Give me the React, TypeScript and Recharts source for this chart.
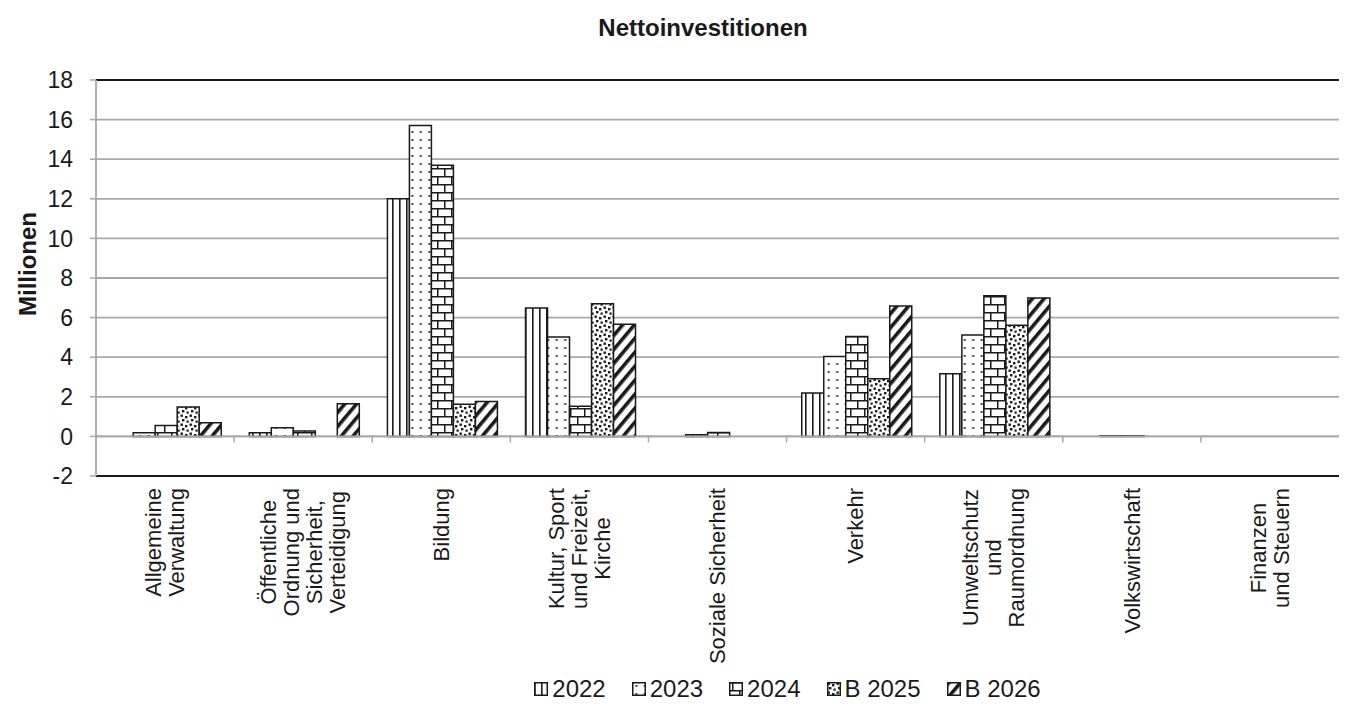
import React from "react";
import {
  BarChart,
  Bar,
  XAxis,
  YAxis,
  CartesianGrid,
  ReferenceLine,
  Legend,
} from "recharts";

const categoryLines: string[][] = [
  ["Allgemeine", "Verwaltung"],
  ["Öffentliche", "Ordnung und", "Sicherheit,", "Verteidigung"],
  ["Bildung"],
  ["Kultur, Sport", "und Freizeit,", "Kirche"],
  ["Soziale Sicherheit"],
  ["Verkehr"],
  ["Umweltschutz", "und", "Raumordnung"],
  ["Volkswirtschaft"],
  ["Finanzen", "und Steuern"],
];
const categories = categoryLines.map((l) => l.join(" "));

const v2022 = [0, 0.19, 12.0, 6.48, 0, 2.19, 3.17, 0, 0];
const v2023 = [0.19, 0.44, 15.7, 5.02, 0.08, 4.04, 5.12, 0.03, 0];
const v2024 = [0.55, 0.27, 13.7, 1.52, 0.2, 5.05, 7.1, 0.03, 0];
const v2025 = [1.48, 0, 1.62, 6.7, 0, 2.91, 5.61, 0, 0];
const v2026 = [0.69, 1.65, 1.76, 5.66, 0, 6.58, 6.99, 0, 0];

const seriesNames = ["2022", "2023", "2024", "B 2025", "B 2026"];
const seriesKeys = ["s2022", "s2023", "s2024", "s2025", "s2026"];
const yTicks = [-2, 0, 2, 4, 6, 8, 10, 12, 14, 16, 18];

const data = categories.map((name, i) => ({
  name,
  s2022: v2022[i],
  s2023: v2023[i],
  s2024: v2024[i],
  s2025: v2025[i],
  s2026: v2026[i],
}));

const FONT = '"Liberation Sans", Arial, sans-serif';
const INK = "#1a1a1a";
const GRID = "#a8a8a8";

let ctx: CanvasRenderingContext2D | null = null;
function measure(text: string, size: number) {
  if (!ctx) ctx = document.createElement("canvas").getContext("2d");
  if (!ctx) return text.length * size * 0.52;
  ctx.font = `${size}px "Liberation Sans"`;
  return ctx.measureText(text).width;
}

function Patterns() {
  return (
    <svg width={0} height={0} style={{ position: "absolute" }}>
      <defs>
        <pattern id="p2022" width="7" height="10" patternUnits="userSpaceOnUse">
          <rect width="7" height="10" fill="#fff" />
          <rect x="0" width="1.6" height="10" fill={INK} />
        </pattern>
        <pattern id="p2023" width="8.5" height="8" patternUnits="userSpaceOnUse">
          <rect width="8.5" height="8" fill="#fff" />
          <rect x="3.4" y="3" width="1.8" height="1.8" fill={INK} />
        </pattern>
        <pattern id="p2024" width="14" height="16" patternUnits="userSpaceOnUse">
          <rect width="14" height="16" fill="#fff" />
          <rect x="0" y="0" width="14" height="1.5" fill={INK} />
          <rect x="0" y="8" width="14" height="1.5" fill={INK} />
          <rect x="3" y="0" width="1.5" height="8" fill={INK} />
          <rect x="10" y="8" width="1.5" height="8" fill={INK} />
        </pattern>
        <pattern id="p2025" width="9" height="9" patternUnits="userSpaceOnUse">
          <rect width="9" height="9" fill="#fff" />
          <rect x="0.5" y="0.5" width="2.4" height="2.4" fill={INK} />
          <rect x="5" y="2" width="2.4" height="2.4" fill={INK} />
          <rect x="2" y="5" width="2.4" height="2.4" fill={INK} />
          <rect x="6.5" y="6.5" width="2.2" height="2.2" fill={INK} />
        </pattern>
        <pattern
          id="p2026"
          width="9"
          height="9"
          patternUnits="userSpaceOnUse"
          patternTransform="rotate(40)"
        >
          <rect width="9" height="9" fill="#fff" />
          <rect x="0" width="3.6" height="9" fill={INK} />
        </pattern>
      </defs>
    </svg>
  );
}

function XTick(props: any) {
  const { x, y, index } = props;
  const lines = categoryLines[index] || [];
  const size = 22;
  const w = Math.max(...lines.map((l) => measure(l, size)));
  const yc = y + 12 + w / 2;
  const n = lines.length;
  return (
    <g>
      {lines.map((l, i) => {
        const xi = x + (i - (n - 1) / 2) * 23;
        return (
          <text
            key={i}
            x={xi}
            y={yc}
            dy="0.35em"
            textAnchor="middle"
            transform={`rotate(-90 ${xi} ${yc})`}
            fontSize={size}
            fontFamily={FONT}
            fill={INK}
          >
            {l}
          </text>
        );
      })}
    </g>
  );
}

function ZeroLine(props: any) {
  const { x1, y1, x2 } = props;
  const n = categories.length;
  const step = (x2 - x1) / n;
  return (
    <g>
      <line x1={x1} y1={y1} x2={x2} y2={y1} stroke={GRID} strokeWidth={1.8} />
      {categories.slice(1).map((_, i) => (
        <line
          key={i}
          x1={x1 + step * (i + 1)}
          x2={x1 + step * (i + 1)}
          y1={y1}
          y2={y1 + 6}
          stroke={GRID}
          strokeWidth={1.5}
        />
      ))}
    </g>
  );
}

function YLabel(props: any) {
  const { viewBox } = props;
  const cx = viewBox.x + 28;
  const cy = viewBox.y + viewBox.height / 2 - 14;
  return (
    <text
      x={cx}
      y={cy}
      dy="0.35em"
      textAnchor="middle"
      transform={`rotate(-90 ${cx} ${cy})`}
      fontSize={24}
      fontWeight="bold"
      fontFamily={FONT}
      fill={INK}
    >
      Millionen
    </text>
  );
}

function LegendContent() {
  return (
    <div
      style={{
        display: "flex",
        justifyContent: "center",
        paddingLeft: 236,
        fontFamily: FONT,
        fontSize: 24,
        color: INK,
        lineHeight: "26px",
      }}
    >
      {seriesNames.map((name, i) => (
        <div
          key={name}
          style={{ display: "flex", alignItems: "center", marginRight: i < 4 ? 26 : 0 }}
        >
          <svg width={14} height={14} style={{ marginRight: 4 }}>
            <rect
              x={0.75}
              y={0.75}
              width={12.5}
              height={12.5}
              fill={`url(#p${seriesKeys[i].slice(1)})`}
              stroke={INK}
              strokeWidth={1.5}
            />
          </svg>
          <span>{name}</span>
        </div>
      ))}
    </div>
  );
}

export default function App() {
  return (
    <div style={{ position: "absolute", left: 0, top: 0, width: 1347, height: 714, background: "#fff" }}>
      <Patterns />
      <div
        style={{
          position: "absolute",
          top: 14,
          left: 0,
          width: 1406,
          textAlign: "center",
          fontFamily: FONT,
          fontWeight: "bold",
          fontSize: 24,
          lineHeight: "28px",
          color: INK,
        }}
      >
        Nettoinvestitionen
      </div>
      <BarChart
        width={1347}
        height={714}
        data={data}
        margin={{ top: 80, right: 8, left: 0, bottom: 0 }}
        barCategoryGap="11%"
        barGap={0}
      >
        <CartesianGrid vertical={false} stroke={GRID} strokeWidth={1.8} />
        <XAxis
          dataKey="name"
          interval={0}
          height={200}
          tickSize={0}
          tickMargin={0}
          tickLine={false}
          axisLine={{ stroke: INK, strokeWidth: 2 }}
          tick={<XTick />}
        />
        <YAxis
          width={96}
          domain={[-2, 18]}
          ticks={yTicks}
          interval={0}
          tickSize={6}
          tickMargin={17}
          axisLine={{ stroke: GRID, strokeWidth: 1.8 }}
          tickLine={{ stroke: GRID, strokeWidth: 1.5 }}
          tick={{ fontSize: 23, fontFamily: FONT, fill: INK }}
          label={(p: any) => <YLabel {...p} />}
        />
        <YAxis
          yAxisId="r"
          orientation="right"
          width={0}
          domain={[-2, 18]}
          tick={false}
          tickLine={false}
          axisLine={{ stroke: INK, strokeWidth: 2 }}
        />
        <ReferenceLine y={0} shape={(p: any) => <ZeroLine {...p} />} />
        <ReferenceLine y={18} stroke={INK} strokeWidth={2} />
        {seriesKeys.map((k, i) => (
          <Bar
            key={k}
            dataKey={k}
            name={seriesNames[i]}
            fill={`url(#p${k.slice(1)})`}
            stroke={INK}
            strokeWidth={1.5}
            isAnimationActive={false}
          />
        ))}
        <Legend verticalAlign="bottom" height={38} content={<LegendContent />} />
      </BarChart>
    </div>
  );
}
